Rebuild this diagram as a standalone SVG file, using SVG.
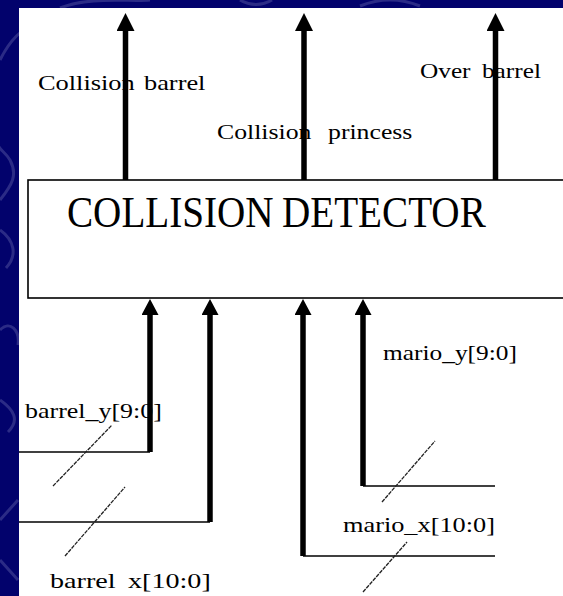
<svg xmlns="http://www.w3.org/2000/svg" width="563" height="596" viewBox="0 0 563 596">
  <defs>
    <style>
      .bg { fill: #02026c; }
      .swirl { fill: none; stroke: #2b2b86; stroke-width: 3; }
      .panel { fill: #ffffff; }
      .box { fill: #ffffff; stroke: #000000; stroke-width: 1.6; }
      .bus { fill: none; stroke: #000000; stroke-width: 5.5; }
      .wire { fill: none; stroke: #000000; stroke-width: 1.5; }
      .slash { fill: none; stroke: #222222; stroke-width: 1.3; stroke-dasharray: 4 1; }
    </style>
    <marker id="headTop" markerUnits="userSpaceOnUse" markerWidth="18" markerHeight="18" viewBox="0 0 18 18" refX="0" refY="9" orient="auto">
      <path d="M0,0 L18,9 L0,18 z" fill="#000000"/>
    </marker>
    <marker id="headBot" markerUnits="userSpaceOnUse" markerWidth="16" markerHeight="17" viewBox="0 0 16 17" refX="0" refY="8.5" orient="auto">
      <path d="M0,0 L16,8.5 L0,17 z" fill="#000000"/>
    </marker>
  </defs>

  <g id="background">
    <rect class="bg" x="0" y="0" width="563" height="596"/>
    <path class="swirl" d="M0,60 C10,40 20,30 40,20 M60,8 C90,-4 130,2 150,0 M0,200 C12,185 18,175 10,160 C4,150 -2,150 -4,140 M0,230 C14,240 18,255 6,268 M0,330 C10,320 20,330 18,345 M0,400 C14,410 20,420 8,432 M0,520 L18,500 M0,560 L18,580 M240,0 C250,6 262,6 272,0 M360,6 C380,-2 400,-2 420,6"/>
    <rect class="panel" x="19" y="8" width="560" height="600"/>
  </g>

  <g id="collision-detector">
    <rect class="box" x="28" y="180" width="560" height="118"/>
    <text font-family="Liberation Serif" font-size="44" fill="#000000" transform="translate(67,227) scale(0.89,1)"><tspan x="0" y="0">COLLISION</tspan> <tspan x="241.6" y="0">DETECTOR</tspan></text>
  </g>

  <g id="connectors">
    <!-- outputs -->
    <line class="bus" x1="125.5" y1="180" x2="125.5" y2="31" marker-end="url(#headTop)"/>
    <line class="bus" x1="304" y1="180" x2="304" y2="31" marker-end="url(#headTop)"/>
    <line class="bus" x1="495.5" y1="180" x2="495.5" y2="31" marker-end="url(#headTop)"/>

    <!-- barrel_y -->
    <polyline class="wire" points="19,452 150,452"/>
    <line class="bus" x1="150" y1="452" x2="150" y2="315" marker-end="url(#headBot)"/>
    <line class="slash" x1="53" y1="486" x2="112" y2="425"/>

    <!-- barrel_x -->
    <polyline class="wire" points="19,522 210,522"/>
    <line class="bus" x1="210" y1="522" x2="210" y2="315" marker-end="url(#headBot)"/>
    <line class="slash" x1="65" y1="556" x2="125" y2="487"/>

    <!-- mario_x -->
    <polyline class="wire" points="303,556 495,556"/>
    <line class="bus" x1="303" y1="556" x2="303" y2="315" marker-end="url(#headBot)"/>
    <line class="slash" x1="363" y1="592" x2="407" y2="542"/>

    <!-- mario_y -->
    <polyline class="wire" points="363,486 495,486"/>
    <line class="bus" x1="363" y1="486" x2="363" y2="315" marker-end="url(#headBot)"/>
    <line class="slash" x1="382" y1="502" x2="435" y2="441"/>
  </g>

  <g id="labels" font-family="Liberation Serif" font-size="22" fill="#000000">
    <text transform="translate(38,90) scale(1.2,1)"><tspan x="0" y="0">Collision</tspan> <tspan x="88.3" y="0">barrel</tspan></text>
    <text transform="translate(217,139) scale(1.17,1)"><tspan x="0" y="0">Collision</tspan> <tspan x="94.9" y="0">princess</tspan></text>
    <text transform="translate(420,78) scale(1.15,1)"><tspan x="0" y="0">Over</tspan> <tspan x="53.9" y="0">barrel</tspan></text>
    <text transform="translate(25,418) scale(1.18,1)">barrel_y[9:0]</text>
    <text transform="translate(50,588) scale(1.28,1)"><tspan x="0" y="0">barrel</tspan> <tspan x="60.9" y="0">x[10:0]</tspan></text>
    <text transform="translate(383,360) scale(1.154,1)">mario_y[9:0]</text>
    <text transform="translate(343,532) scale(1.196,1)">mario_x[10:0]</text>
  </g>
</svg>
